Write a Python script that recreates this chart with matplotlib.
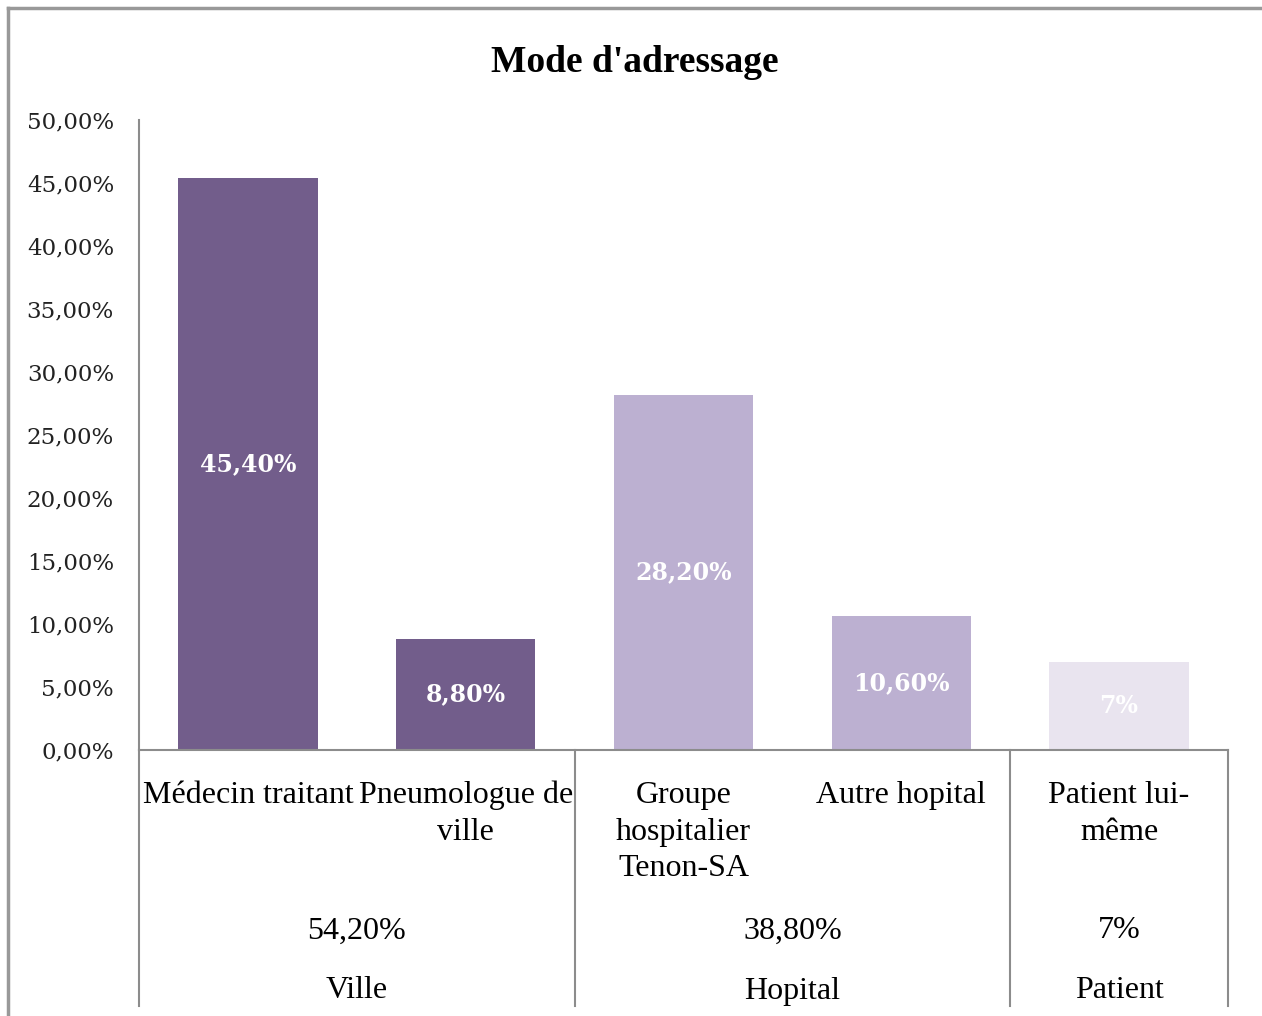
import matplotlib
matplotlib.use("Agg")
import matplotlib.pyplot as plt
import matplotlib.transforms as mtransforms
from matplotlib.lines import Line2D

# data
categories = ["Médecin traitant", "Pneumologue de\nville",
              "Groupe\nhospitalier\nTenon-SA", "Autre hopital",
              "Patient lui-\nmême"]
values = [45.4, 8.8, 28.2, 10.6, 7.0]
value_labels = ["45,40%", "8,80%", "28,20%", "10,60%", "7%"]
groups = ["Ville", "Hopital", "Patient"]
group_values = ["54,20%", "38,80%", "7%"]
group_members = [[0, 1], [2, 3], [4]]
group_colors = ["#725d8b", "#bcb0d1", "#e9e4ef"]
yticks = [0, 5, 10, 15, 20, 25, 30, 35, 40, 45, 50]

W, H = 1262, 1016
fig = plt.figure(figsize=(W / 100, H / 100), dpi=100)
fig.patch.set_facecolor("white")


def fy(px):
    # pixel row -> figure fraction
    return 1 - px / H


ax = fig.add_axes([139 / W, fy(750), (1228 - 139) / W, (750 - 120) / H])

bar_colors = []
for g, members in enumerate(group_members):
    for m in members:
        bar_colors.append(group_colors[g])

x = list(range(len(categories)))
ax.bar(x, values, width=0.64, color=bar_colors, zorder=2)
ax.set_xlim(-0.5, len(categories) - 0.5)
ax.set_ylim(0, 50)

for xi, v, lab in zip(x, values, value_labels):
    ax.text(xi, v / 2, lab, ha="center", va="center", color="white",
            fontsize=17, fontweight="bold", family="DejaVu Serif", zorder=3)

ax.set_yticks(yticks)
ax.set_yticklabels([f"{t:.2f}".replace(".", ",") + "%" for t in yticks],
                   family="DejaVu Serif", fontsize=16.5, color="#222222")
ax.tick_params(axis="y", length=0, pad=18)
ax.set_xticks([])

for s in ["top", "right"]:
    ax.spines[s].set_visible(False)
for s in ["left", "bottom"]:
    ax.spines[s].set_color("#8c8c8c")
    ax.spines[s].set_linewidth(1.5)

# category labels and group rows below the axis
trans = mtransforms.blended_transform_factory(ax.transData, fig.transFigure)
for xi, cat in zip(x, categories):
    ax.text(xi, fy(781), cat, transform=trans, ha="center", va="top",
            fontsize=23, family="Liberation Serif", linespacing=1.35,
            clip_on=False)

for members, gv, gname in zip(group_members, group_values, groups):
    cx = (members[0] + members[-1]) / 2
    ax.text(cx, fy(931), gv, transform=trans, ha="center", va="center",
            fontsize=23, family="Liberation Serif", clip_on=False)
    ax.text(cx, fy(991), gname, transform=trans, ha="center", va="center",
            fontsize=23, family="Liberation Serif", clip_on=False)

# vertical separators between groups
bounds = [-0.5] + [m[-1] + 0.5 for m in group_members]
for b in bounds:
    ax.plot([b, b], [fy(750), fy(1006)], transform=trans, color="#8c8c8c",
            lw=1.5, clip_on=False)

fig.text(635 / W, fy(62), "Mode d'adressage", family="Liberation Serif",
         fontweight="bold", fontsize=27, ha="center", va="center")

# outer frame (top and left edges visible)
fig.add_artist(Line2D([8 / W, 1], [fy(8), fy(8)], color="#999999", lw=2.5))
fig.add_artist(Line2D([8 / W, 8 / W], [fy(8), 0], color="#999999", lw=2.5))

fig.savefig("out.png", dpi=100)
